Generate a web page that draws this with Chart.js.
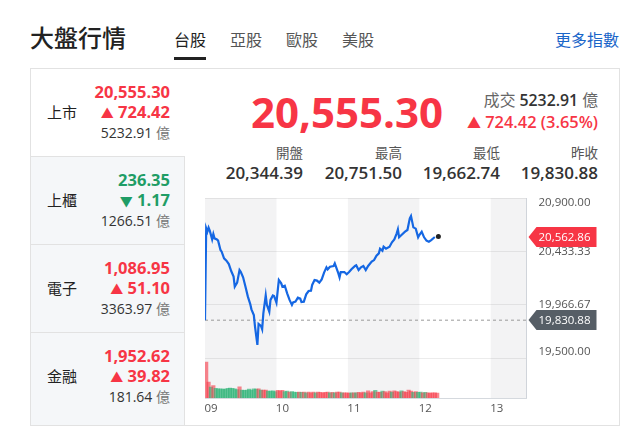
<!DOCTYPE html>
<html lang="zh-Hant">
<head>
<meta charset="utf-8">
<title>大盤行情</title>
<script src="https://cdn.jsdelivr.net/npm/chart.js@4"></script>
<style>
  html, body { margin: 0; padding: 0; background: #fff; }
  body { width: 626px; height: 442px; position: relative; overflow: hidden;
    font-family: "Open Sans", "Noto Sans CJK TC", sans-serif; color: #222; }
  .t { position: absolute; white-space: nowrap; line-height: 1; }
  .red { color: #f73545; }
  .green { color: #1f9d66; }
  #panel { position: absolute; left: 30px; top: 68px; width: 588px; height: 356px; border: 1px solid #e2e2e2; }
  .row { border-top: 1px solid #e2e2e2; border-right: 1px solid #e2e2e2; background: #f5f7f9; }
  canvas { position: absolute; left: 205px; top: 190px; }
</style>
</head>
<body>
<div id="panel"></div>
<div id="page"></div>
<canvas id="chart" width="421" height="235" style="width:421px;height:235px"></canvas>
<script>
var minutes = [0, 1, 2, 3, 4, 6, 7, 8, 10, 11, 13, 14, 16, 18, 20, 22, 24, 25, 27, 29, 30, 32, 34, 36, 38, 39, 41, 42, 44, 45, 47, 48, 49, 51, 52, 54, 55, 57, 58, 60, 62, 64, 65, 67, 69, 71, 73, 74, 76, 78, 80, 81, 83, 85, 87, 89, 90, 92, 94, 96, 98, 100, 102, 103, 105, 108, 109, 112, 113, 114, 117, 119, 121, 123, 126, 127, 129, 131, 133, 135, 137, 140, 142, 144, 146, 147, 149, 150, 152, 155, 157, 159, 161, 162, 163, 165, 168, 170, 172, 173, 175, 177, 179, 180, 182, 184, 186, 188, 190, 193];
var prices = [19831, 20635, 20605, 20640, 20614, 20538, 20585, 20547, 20538, 20527, 20445, 20430, 20372, 20352, 20322, 20261, 20212, 20124, 20159, 20270, 20255, 20206, 20124, 20037, 19972, 19926, 19876, 19774, 19614, 19797, 19780, 19751, 19891, 20048, 19964, 19905, 20008, 20048, 20043, 19984, 20182, 20153, 20124, 20133, 20066, 20008, 19964, 19987, 19993, 20028, 20019, 19990, 19993, 20057, 20086, 20089, 20139, 20182, 20177, 20159, 20188, 20247, 20293, 20276, 20299, 20305, 20328, 20241, 20206, 20252, 20252, 20232, 20252, 20276, 20305, 20311, 20270, 20293, 20305, 20270, 20305, 20343, 20357, 20395, 20416, 20457, 20439, 20474, 20457, 20474, 20512, 20538, 20591, 20626, 20556, 20576, 20605, 20620, 20722, 20742, 20643, 20632, 20556, 20576, 20605, 20556, 20527, 20518, 20532, 20559];
var lastMinute = 196;
var lastPrice = 20562.86;
var prevClose = 19830.88;

var volMinutes = [1, 3, 5, 7, 9, 11, 13, 15, 17, 19, 21, 23, 25, 27, 29, 31, 33, 35, 37, 39, 41, 43, 45, 47, 49, 51, 53, 55, 57, 59, 61, 63, 65, 67, 69, 71, 73, 75, 77, 79, 81, 83, 85, 87, 89, 91, 93, 95, 97, 99, 101, 103, 105, 107, 109, 111, 113, 115, 117, 119, 121, 123, 125, 127, 129, 131, 133, 135, 137, 139, 141, 143, 145, 147, 149, 151, 153, 155, 157, 159, 161, 163, 165, 167, 169, 171, 173, 175, 177, 179, 181, 183, 185, 187, 189, 191, 193, 195];
var volumes = [900, 400, 270, 310, 240, 230, 230, 220, 220, 240, 250, 240, 230, 210, 280, 200, 190, 200, 220, 200, 230, 220, 230, 200, 200, 200, 170, 170, 180, 160, 190, 180, 190, 160, 170, 150, 160, 150, 140, 150, 140, 150, 130, 150, 130, 150, 130, 150, 140, 130, 140, 150, 130, 140, 130, 150, 150, 130, 130, 130, 120, 130, 130, 130, 140, 130, 150, 130, 180, 130, 160, 190, 150, 140, 170, 160, 130, 170, 150, 180, 160, 150, 180, 160, 140, 200, 170, 140, 160, 140, 150, 130, 140, 130, 120, 130, 130, 120];
var volUp = [1, 1, 0, 1, 0, 0, 0, 0, 0, 0, 0, 0, 0, 0, 1, 0, 0, 0, 0, 0, 0, 0, 1, 0, 1, 1, 0, 0, 0, 0, 1, 1, 1, 0, 0, 1, 0, 0, 0, 1, 0, 1, 0, 1, 1, 1, 0, 1, 1, 1, 1, 1, 0, 1, 0, 1, 1, 0, 1, 1, 1, 0, 1, 0, 1, 1, 1, 0, 1, 1, 1, 0, 1, 1, 0, 1, 1, 1, 0, 1, 1, 1, 0, 1, 1, 1, 1, 0, 1, 0, 0, 1, 0, 1, 1, 1, 1, 1];

var priceTicks = [20900, 20433.33, 19966.67, 19500];
var hourLabels = ["09", "10", "11", "12", "13"];
var bands = [[0, 60], [120, 180], [240, 270]];

var tabs = ["台股", "亞股", "歐股", "美股"];
var rowNames = ["上市", "上櫃", "電子", "金融"];
var rowValues = ["20,555.30", "236.35", "1,086.95", "1,952.62"];
var rowChanges = ["724.42", "1.17", "51.10", "39.82"];
var rowAmounts = ["5232.91", "1266.51", "3363.97", "181.64"];
var rowUp = [true, false, true, true];
var statNames = ["開盤", "最高", "最低", "昨收"];
var statValues = ["20,344.39", "20,751.50", "19,662.74", "19,830.88"];

var page = document.getElementById("page");
function text(str, css, cls) {
  var d = document.createElement("div");
  d.className = "t " + (cls || "");
  d.style.cssText = css;
  d.innerHTML = str;
  page.appendChild(d);
}
function rightAt(x) { return "right:" + (626 - x) + "px;"; }

text("大盤行情", "left:30px;top:26px;font-size:24px;font-weight:500;");
tabs.forEach(function (t, i) {
  text(t, "left:" + (174 + i * 56) + "px;top:32px;font-size:16px;color:" + (i ? "#555" : "#222") + ";");
});
text("", "left:174px;top:57px;width:32px;height:3px;background:#222;");
text("更多指數", rightAt(619) + "top:32px;font-size:16px;color:#1a66c9;");

[156, 244, 332].forEach(function (y, i) {
  text("", "left:31px;top:" + y + "px;width:153px;height:" + (i == 2 ? 92 : 87) + "px;", "row");
});
rowNames.forEach(function (n, i) {
  var top = [69, 157, 245, 333][i];
  var c = rowUp[i] ? "red" : "green";
  text(n, "left:47px;top:" + (top + 36) + "px;font-size:15px;");
  text(rowValues[i], rightAt(170) + "top:" + (top + 15) + "px;font-size:16.5px;font-weight:700;", c);
  text('<span style="font-size:13px">' + (rowUp[i] ? "▲" : "▼") + "</span>" + " " + rowChanges[i], rightAt(170) + "top:" + (top + 35) + "px;font-size:16.5px;font-weight:700;", c);
  text(rowAmounts[i] + ' <span style="color:#777">億</span>', rightAt(170) + "top:" + (top + 57) + "px;font-size:14px;color:#333;");
});

text("20,555.30", rightAt(443) + "top:91px;font-size:42px;font-weight:700;", "red");
text('<span style="color:#666">成交</span> <span style="font-weight:600;color:#333">5232.91</span> <span style="color:#666">億</span>', rightAt(598) + "top:93px;font-size:15.8px;");
text('<span style="font-size:14px">▲</span> 724.42 (3.65%)', rightAt(598) + "top:114px;font-size:16.4px;font-weight:600;", "red");
statNames.forEach(function (n, i) {
  var x = [303, 402, 500, 598][i];
  text(n, rightAt(x) + "top:147px;font-size:13.5px;color:#555;");
  text(statValues[i], rightAt(x) + "top:164px;font-size:17px;font-weight:600;color:#333;");
});

function xy(xs, ys) {
  return xs.map(function (x, i) { return { x: x, y: ys[i] }; });
}

// gray session bands, right side labels and the two price tags
var decorate = {
  id: "decorate",
  beforeDatasetsDraw: function (chart) {
    var c = chart.ctx, a = chart.chartArea, sx = chart.scales.x;
    c.save();
    c.fillStyle = "rgba(120,125,130,0.09)";
    bands.forEach(function (b) {
      var x0 = sx.getPixelForValue(b[0]), x1 = sx.getPixelForValue(b[1]);
      c.fillRect(x0, a.top, x1 - x0, a.bottom - a.top);
    });
    c.restore();
  },
  afterDraw: function (chart) {
    var c = chart.ctx, a = chart.chartArea, sy = chart.scales.y;
    c.save();
    c.font = "11.5px 'Open Sans'";
    c.textBaseline = "middle";
    c.fillStyle = "#555";
    var nudge = [5, 0, 0, -6];
    priceTicks.forEach(function (v, i) {
      c.fillText(v.toLocaleString("en-US", { minimumFractionDigits: 2 }), a.right + 12, sy.getPixelForValue(v) + nudge[i]);
    });
    [[lastPrice, "#f73545"], [prevClose, "#565e66"]].forEach(function (t) {
      var y = Math.round(sy.getPixelForValue(t[0]));
      var x = a.right + 2;
      c.fillStyle = t[1];
      c.beginPath();
      c.moveTo(x, y);
      c.lineTo(x + 8, y - 10);
      c.lineTo(x + 68, y - 10);
      c.lineTo(x + 68, y + 10);
      c.lineTo(x + 8, y + 10);
      c.closePath();
      c.fill();
      c.fillStyle = "#fff";
      c.fillText(t[0].toLocaleString("en-US", { minimumFractionDigits: 2 }), a.right + 12, y + 0.5);
    });
    c.restore();
  }
};

new Chart("chart", {
  type: "line",
  data: {
    datasets: [
      {
        data: xy(minutes, prices),
        borderColor: "#1567e3",
        borderWidth: 2.2,
        pointRadius: 0,
        tension: 0,
        yAxisID: "y",
        order: 1,
      },
      {
        data: xy([0, 270], [prevClose, prevClose]),
        borderColor: "#999",
        borderWidth: 1,
        borderDash: [3, 3],
        pointRadius: 0,
        yAxisID: "y",
        order: 2,
      },
      {
        data: xy([lastMinute], [lastPrice]),
        pointRadius: 2.5,
        pointBackgroundColor: "#222",
        pointBorderWidth: 0,
        yAxisID: "y",
        order: 0,
      },
      {
        type: "bar",
        data: xy(volMinutes, volumes),
        backgroundColor: volUp.map(function (u) {
          return u ? "rgba(247,53,69,0.6)" : "rgba(31,175,110,0.6)";
        }),
        barThickness: 3.5,
        yAxisID: "vol",
        order: 3,
      },
    ],
  },
  plugins: [decorate],
  options: {
    responsive: false,
    animation: false,
    layout: { autoPadding: false, padding: { top: 8, left: 0, right: 0, bottom: 0 } },
    plugins: { legend: { display: false }, tooltip: { enabled: false } },
    scales: {
      x: {
        type: "linear",
        offset: false,
        min: 0,
        max: 270,
        grid: { display: false, offset: false, drawTicks: false },
        border: { color: "#d5d9de" },
        afterFit: function (s) { s.height = 27; s.paddingLeft = 0; s.paddingRight = 0; },
        ticks: {
          stepSize: 60,
          labelOffset: 6,
          maxRotation: 0,
          autoSkip: false,
          color: "#555",
          font: { size: 11.5, family: "Open Sans" },
          padding: 4,
          callback: function (v) { return hourLabels[v / 60]; },
        },
      },
      y: {
        position: "right",
        min: 19150,
        max: 20900,
        afterBuildTicks: function (s) {
          s.ticks = priceTicks.map(function (v) { return { value: v }; });
        },
        afterFit: function (s) { s.width = 99.5; },
        grid: { color: "#ececec", drawTicks: false },
        border: { color: "#d5d9de" },
        ticks: { display: false },
      },
      vol: {
        display: false,
        min: 0,
        max: 5000,
      },
    },
  },
});
</script>
</body>
</html>
